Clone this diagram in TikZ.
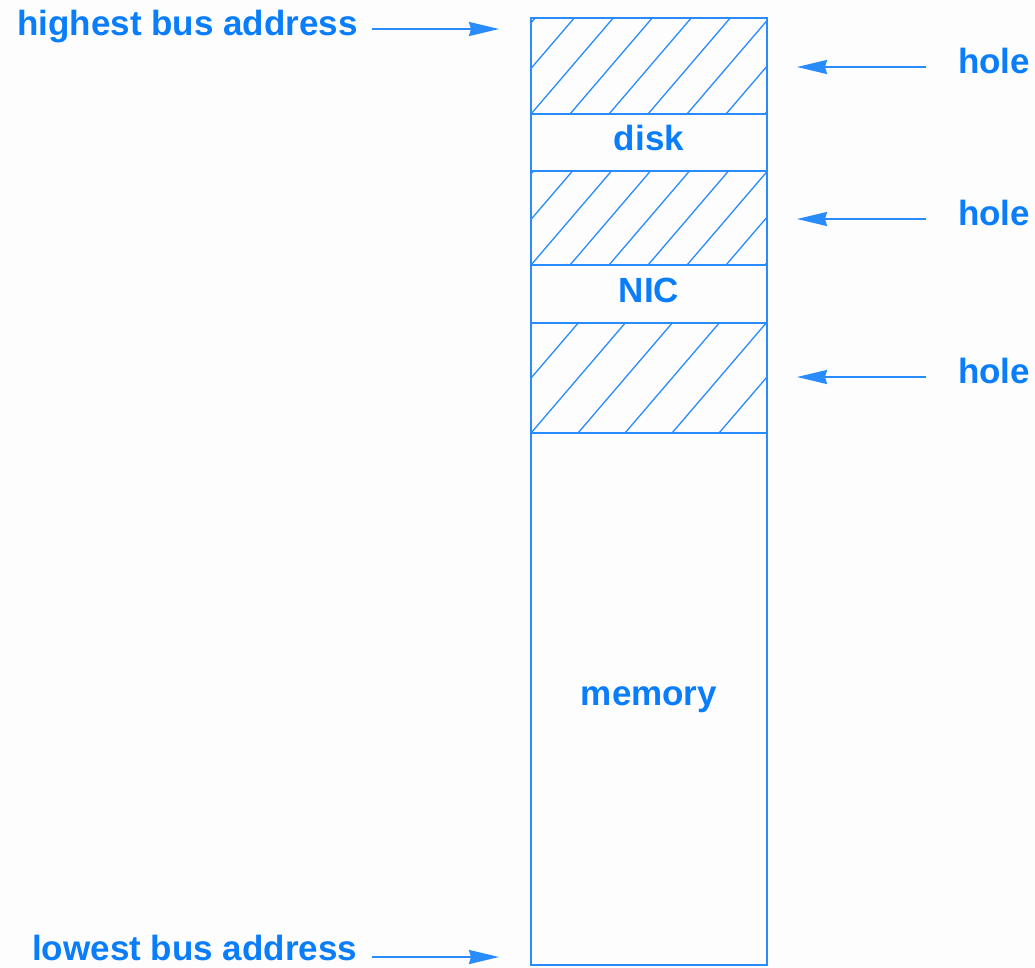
\documentclass[tikz,border=0pt]{standalone}
\usepackage{fontspec}
\setmainfont{Liberation Sans}
\usetikzlibrary{arrows.meta}
\definecolor{txt}{RGB}{10,125,250}
\definecolor{ln}{RGB}{40,140,255}
\definecolor{bg}{RGB}{253,253,253}
\begin{document}
\begin{tikzpicture}[x=1pt,y=-1pt,
  lbl/.style={font=\fontsize{35}{40}\selectfont\bfseries, text=txt, inner sep=0pt},
  seg/.style={draw=ln, line width=2pt, minimum width=236pt, inner sep=0pt, outer sep=0pt, anchor=north west},
  hatch/.style={path picture={
      \coordinate (sw) at (path picture bounding box.south west);
      \foreach \k in {-8,...,8}{
        \draw[ln, line width=1.3pt] ([xshift=\k*#1 pt]sw) -- ++(250,-292);
      }}},
  arr/.style={draw=ln, line width=2pt, -{Stealth[length=30pt,width=14pt,inset=2pt]}},
]
\useasboundingbox[fill=bg] (0,0) rectangle (1035,967);

% memory column
\node[seg, hatch=39, minimum height=96pt] (h1) at (531,18) {};
\node[seg, minimum height=57pt] (disk) at (531,114) {};
\node[seg, hatch=39, minimum height=94pt] (h2) at (531,171) {};
\node[seg, minimum height=58pt] (nic) at (531,265) {};
\node[seg, hatch=47, minimum height=110pt] (h3) at (531,323) {};
\node[seg, minimum height=532pt] (mem) at (531,433) {};

\node[lbl] (tdisk) at (649,138) {disk};
\node[lbl] (tnic) at (649,290) {NIC};
\node[lbl] (tmem) at (649,700) {memory};

% left labels
\node[lbl, anchor=base west] (high) at (17,35) {highest bus address};
\node[lbl, anchor=base west] (low) at (32,960) {lowest bus address};
\coordinate (hs) at (372,29);
\coordinate (he) at (499,29);
\coordinate (ls) at (372,957);
\coordinate (le) at (499,957);
\draw[arr] (hs) -- (he);
\draw[arr] (ls) -- (le);

% right labels
\node[lbl, anchor=base west] (hole1) at (958,73) {hole};
\node[lbl, anchor=base west] (hole2) at (958,225) {hole};
\node[lbl, anchor=base west] (hole3) at (958,383) {hole};
\coordinate (a1s) at (926,67);  \coordinate (a1e) at (797,67);
\coordinate (a2s) at (926,219); \coordinate (a2e) at (797,219);
\coordinate (a3s) at (926,377); \coordinate (a3e) at (797,377);
\draw[arr] (a1s) -- (a1e);
\draw[arr] (a2s) -- (a2e);
\draw[arr] (a3s) -- (a3e);
\end{tikzpicture}
\end{document}
